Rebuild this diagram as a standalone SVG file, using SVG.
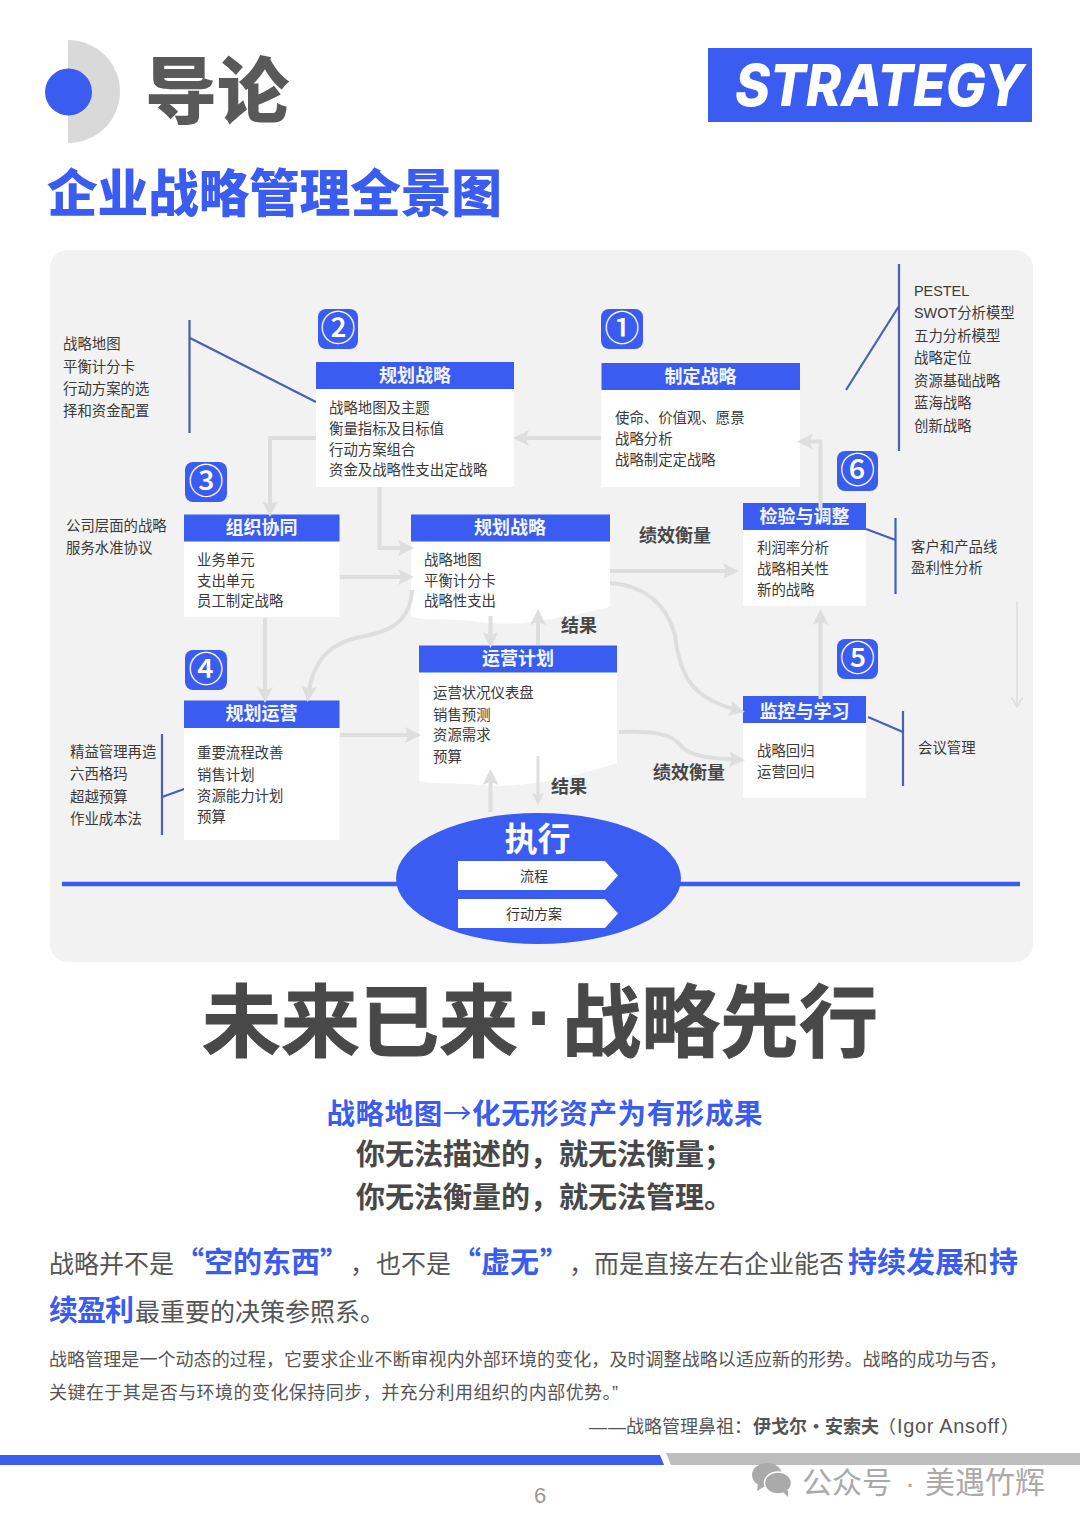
<svg xmlns="http://www.w3.org/2000/svg" width="1080" height="1526" viewBox="0 0 1080 1526">
<style>
text{font-family:"Noto Sans CJK SC","Liberation Sans",sans-serif;fill:#333}
.b{font-family:"Liberation Sans","Noto Sans CJK SC",sans-serif;font-size:14.400px;fill:#3a3a3a}
.h{font-size:18px;font-weight:700;fill:#f4f6ff;text-anchor:middle}
.k{font-size:18px;font-weight:700;fill:#484848}
.n{font-size:35px;font-weight:500;fill:#fff;text-anchor:middle}
.hd{fill:#3a5cf0}
.bd{fill:#fff}
.bg{fill:#3a5cf0}
.c{fill:none;stroke:#dedede;stroke-width:4}
.l{fill:none;stroke:#4a5fb5;stroke-width:2.200}
.p{font-size:25px;fill:#555}
.e{font-size:29px;font-weight:700;fill:#3a5cf0}
.s{font-family:"Liberation Sans","Noto Sans CJK SC",sans-serif;font-size:18px;fill:#555}
.t{font-size:29px;font-weight:700;fill:#484848}
.w{font-size:30px;fill:#aaa}
.m{font-size:79px;font-weight:700;fill:#484848;stroke:#484848;stroke-width:1}
</style>
<defs>
<marker id="a" markerWidth="4" markerHeight="4" refX="3" refY="2" orient="auto"><path d="M0,0L4,2L0,4L.8,2Z" fill="#dedede"/></marker>
<marker id="o" markerWidth="8" markerHeight="8" refX="7" refY="4" orient="auto"><path d="M0,0L7,4L0,8" fill="none" stroke="#dedede" stroke-width="1"/></marker>
</defs>
<rect width="1080" height="1526" fill="#fff"/>

<g id="header">
<path d="M68,40A52,51.500 0 0 1 68,143Z" fill="#d9d9d9"/>
<circle cx="68.500" cy="92" r="23.500" fill="#3a5cf0"/>
<text x="145" y="117" font-size="72" font-weight="900" style="fill:#595959">导论</text>
<text x="47" y="212" font-size="50.800" font-weight="900" textLength="455" style="fill:#3a5cf0">企业战略管理全景图</text>
<rect x="708" y="48" width="324" height="74" fill="#3a5cf0"/>
<text x="735" y="106" font-size="58" font-weight="800" font-style="italic" textLength="289" lengthAdjust="spacingAndGlyphs" style="font-family:Inter,'Liberation Sans',sans-serif;fill:#fff">STRATEGY</text>
</g>

<rect id="panel" x="50" y="250" width="983" height="712" rx="18" fill="#f2f2f2"/>

<g id="side-labels">
<path class="l" d="M189.500,320V433M190,338L316,402M899,264V451M899,306L846,390M895.500,518V594M866,529L895.500,540M903,711V786M868,717L903,732M162,734V835M162,797L187,788"/>
<text class="b" x="63" y="349">战略地图</text><text class="b" x="63" y="371.500">平衡计分卡</text><text class="b" x="63" y="394">行动方案的选</text><text class="b" x="63" y="416">择和资金配置</text>
<text class="b" x="66" y="531">公司层面的战略</text><text class="b" x="66" y="553">服务水准协议</text>
<text class="b" x="70" y="757">精益管理再造</text><text class="b" x="70" y="779">六西格玛</text><text class="b" x="70" y="802">超越预算</text><text class="b" x="70" y="824">作业成本法</text>
<text class="b" x="914" y="296">PESTEL</text><text class="b" x="914" y="318">SWOT分析模型</text><text class="b" x="914" y="341">五力分析模型</text><text class="b" x="914" y="363">战略定位</text><text class="b" x="914" y="386">资源基础战略</text><text class="b" x="914" y="408">蓝海战略</text><text class="b" x="914" y="431">创新战略</text>
<text class="b" x="911" y="552">客户和产品线</text><text class="b" x="911" y="573">盈利性分析</text>
<text class="b" x="918" y="753">会议管理</text>
</g>

<g id="node-2">
<rect class="bg" x="318" y="309" width="40" height="40" rx="8"/><text class="n" x="338" y="341">②</text>
<rect class="bd" x="316" y="389" width="198" height="98"/><rect class="hd" x="316" y="362" width="198" height="27"/>
<text class="h" x="415" y="381.500">规划战略</text>
<text class="b" x="329" y="413">战略地图及主题</text><text class="b" x="329" y="434">衡量指标及目标值</text><text class="b" x="329" y="455">行动方案组合</text><text class="b" x="329" y="475">资金及战略性支出定战略</text>
</g>
<g id="node-1">
<rect class="bg" x="601" y="309" width="42" height="40" rx="8"/><text class="n" x="622" y="341">①</text>
<rect class="bd" x="601.500" y="390" width="198.500" height="97"/><rect class="hd" x="601.500" y="363" width="198.500" height="27"/>
<text class="h" x="700.500" y="382.500">制定战略</text>
<text class="b" x="615" y="423">使命、价值观、愿景</text><text class="b" x="615" y="444">战略分析</text><text class="b" x="615" y="465">战略制定定战略</text>
</g>
<g id="node-3">
<rect class="bg" x="185" y="462" width="42" height="40" rx="8"/><text class="n" x="206" y="494">③</text>
<rect class="bd" x="184" y="541" width="155.500" height="76"/><rect class="hd" x="184" y="514.500" width="155.500" height="27"/>
<text class="h" x="261.500" y="534">组织协同</text>
<text class="b" x="197" y="565">业务单元</text><text class="b" x="197" y="586">支出单元</text><text class="b" x="197" y="606">员工制定战略</text>
</g>
<g id="node-plan">
<path class="bd" d="M411,541H610V607C570,616 520,628 480,622C450,618 430,621 411,617Z"/><rect class="hd" x="411" y="514.500" width="199" height="27"/>
<text class="h" x="510" y="534">规划战略</text>
<text class="b" x="424" y="565">战略地图</text><text class="b" x="424" y="586">平衡计分卡</text><text class="b" x="424" y="606">战略性支出</text>
</g>
<g id="node-ops">
<path class="bd" d="M419,672H617V763C580,775 520,790 480,785C455,782 435,785 419,781Z"/><rect class="hd" x="419" y="645.500" width="198" height="27"/>
<text class="h" x="518" y="665">运营计划</text>
<text class="b" x="433" y="698">运营状况仪表盘</text><text class="b" x="433" y="720">销售预测</text><text class="b" x="433" y="740">资源需求</text><text class="b" x="433" y="762">预算</text>
</g>
<g id="node-4">
<rect class="bg" x="185" y="650" width="42" height="40" rx="8"/><text class="n" x="206" y="682">④</text>
<rect class="bd" x="184" y="728" width="155.500" height="112"/><rect class="hd" x="184" y="700.500" width="155.500" height="27.500"/>
<text class="h" x="261.500" y="720">规划运营</text>
<text class="b" x="197" y="758">重要流程改善</text><text class="b" x="197" y="780">销售计划</text><text class="b" x="197" y="801">资源能力计划</text><text class="b" x="197" y="822">预算</text>
</g>
<g id="node-6">
<rect class="bg" x="837" y="451" width="41" height="40" rx="8"/><text class="n" x="857.500" y="483">⑥</text>
<rect class="bd" x="743" y="530" width="123" height="76"/><rect class="hd" x="743" y="503" width="123" height="27"/>
<text class="h" x="804.500" y="522.500">检验与调整</text>
<text class="b" x="757" y="553">利润率分析</text><text class="b" x="757" y="574">战略相关性</text><text class="b" x="757" y="595">新的战略</text>
</g>
<g id="node-5">
<rect class="bg" x="837" y="639" width="41" height="40" rx="8"/><text class="n" x="857.500" y="671">⑤</text>
<rect class="bd" x="743" y="723" width="123" height="75"/><rect class="hd" x="743" y="696" width="123" height="27"/>
<text class="h" x="804.500" y="718">监控与学习</text>
<text class="b" x="757" y="756">战略回归</text><text class="b" x="757" y="777">运营回归</text>
</g>

<g id="connectors">
<path class="c" marker-end="url(#a)" d="M601,438H517"/>
<path class="c" marker-end="url(#a)" d="M316,438H270V513"/>
<path class="c" marker-end="url(#a)" d="M379.500,487V548H410"/>
<path class="c" marker-end="url(#a)" d="M340,577H410"/>
<path class="c" marker-end="url(#a)" d="M412,590C410,625 385,632 365,636C330,642 312,660 308,698"/>
<path class="c" marker-end="url(#a)" d="M265,618V699"/>
<path class="c" marker-end="url(#a)" d="M340,735H417"/>
<path class="c" marker-end="url(#a)" d="M490.500,616V644"/>
<path class="c" marker-end="url(#a)" d="M538,645V613"/>
<path class="c" marker-end="url(#a)" d="M490.500,812V773"/>
<path class="c" marker-end="url(#a)" d="M538,756V802" style="stroke-width:3"/>
<path class="c" marker-end="url(#a)" d="M610,571H735"/>
<path class="c" marker-end="url(#a)" d="M610,583C640,585 665,600 675,635C680,680 695,700 741,711"/>
<path class="c" marker-end="url(#a)" d="M619,732C650,731 672,733 680,745C690,757 710,758 741,760"/>
<path class="c" marker-end="url(#a)" d="M820.500,699V613"/>
<path class="c" marker-end="url(#a)" d="M820.500,510V441.500H801"/>
<path class="c" marker-end="url(#o)" d="M1017,601V707" style="stroke-width:1.500"/>
</g>

<g id="labels">
<text class="k" x="639" y="542">绩效衡量</text>
<text class="k" x="561" y="632">结果</text>
<text class="k" x="551" y="793">结果</text>
<text class="k" x="653" y="779">绩效衡量</text>
</g>

<g id="execute">
<path d="M62,884H1020" stroke="#3a5cf0" stroke-width="4.500" fill="none"/>
<ellipse cx="538.500" cy="878.500" rx="142.500" ry="65.500" fill="#3a5cf0"/>
<text x="537.500" y="851" font-size="33" font-weight="700" text-anchor="middle" style="fill:#fff">执行</text>
<path d="M458,861H605L618,875.500L605,890H458Z" fill="#fff"/>
<path d="M458,899H605L618,913.500L605,928H458Z" fill="#fff"/>
<text x="534" y="881" font-size="14" text-anchor="middle">流程</text>
<text x="534" y="919" font-size="14" text-anchor="middle">行动方案</text>
</g>

<g id="copy">
<text class="m" x="202" y="1051">未来已来</text>
<text x="541" y="1049" font-size="90" font-weight="700" text-anchor="middle" style="font-family:'Liberation Sans',sans-serif;fill:#484848">·</text>
<text class="m" x="562" y="1051">战略先行</text>
<text x="544.500" y="1124" font-size="28.500" font-weight="700" text-anchor="middle" textLength="436" style="fill:#3a5cf0">战略地图<tspan font-weight="400">→</tspan>化无形资产为有形成果</text>
<text class="t" x="356" y="1165">你无法描述的，就无法衡量；</text>
<text class="t" x="356" y="1208">你无法衡量的，就无法管理。</text>
<text class="p" x="49" y="1273">战略并不是</text>
<text class="e" x="175" y="1273">“</text>
<text class="e" x="204" y="1273">空的东西</text>
<text class="e" x="320" y="1273">”</text>
<text class="p" x="350" y="1273">，</text>
<text class="p" x="376" y="1273">也不是</text>
<text class="e" x="452" y="1273">“</text>
<text class="e" x="481" y="1273">虚无</text>
<text class="e" x="540" y="1273">”</text>
<text class="p" x="569" y="1273">，</text>
<text class="p" x="594" y="1273">而是直接左右企业能否</text>
<text class="e" x="848" y="1273">持续发展</text>
<text class="p" x="963" y="1273">和</text>
<text class="e" x="989" y="1273">持</text>
<text class="e" x="49" y="1321" textLength="85">续盈利</text>
<text class="p" x="135" y="1321">最重要的决策参照系。</text>
<text class="s" x="49" y="1366" textLength="958">战略管理是一个动态的过程，它要求企业不断审视内外部环境的变化，及时调整战略以适应新的形势。战略的成功与否，</text>
<text class="s" x="49" y="1399" textLength="569">关键在于其是否与环境的变化保持同步，并充分利用组织的内部优势。”</text>
<text class="s" x="589" y="1433" textLength="37">——</text>
<text class="s" x="626" y="1433">战略管理鼻祖：</text>
<text class="s" x="753" y="1433" font-weight="700" style="font-family:'Noto Sans CJK SC',sans-serif">伊戈尔·安索夫</text>
<text class="s" x="878" y="1433">（</text>
<text class="s" x="897" y="1433" textLength="102" style="font-size:20px">Igor Ansoff</text>
<text class="s" x="1001" y="1433">）</text>
</g>

<g id="footer">
<path d="M0,1455H660L664,1465H0Z" fill="#3a5cf0"/>
<path d="M666,1453H1080V1465H671Z" fill="#bdbdbd"/>
<text x="540" y="1503" font-size="22" text-anchor="middle" style="font-family:'Liberation Sans',sans-serif;fill:#999">6</text>
<ellipse cx="767" cy="1475" rx="15" ry="12" fill="#aaa"/><path d="M758,1484L757,1491L765,1486Z" fill="#aaa"/>
<ellipse cx="778" cy="1483" rx="13.500" ry="11" fill="#aaa" stroke="#fff" stroke-width="1.500"/><path d="M783,1492L788,1497L788,1490Z" fill="#aaa"/>
<text class="w" x="802" y="1493">公众号</text>
<text class="w" x="905" y="1493" style="font-family:'Liberation Sans',sans-serif">·</text>
<text class="w" x="925" y="1493">美遇竹辉</text>
</g>
</svg>
